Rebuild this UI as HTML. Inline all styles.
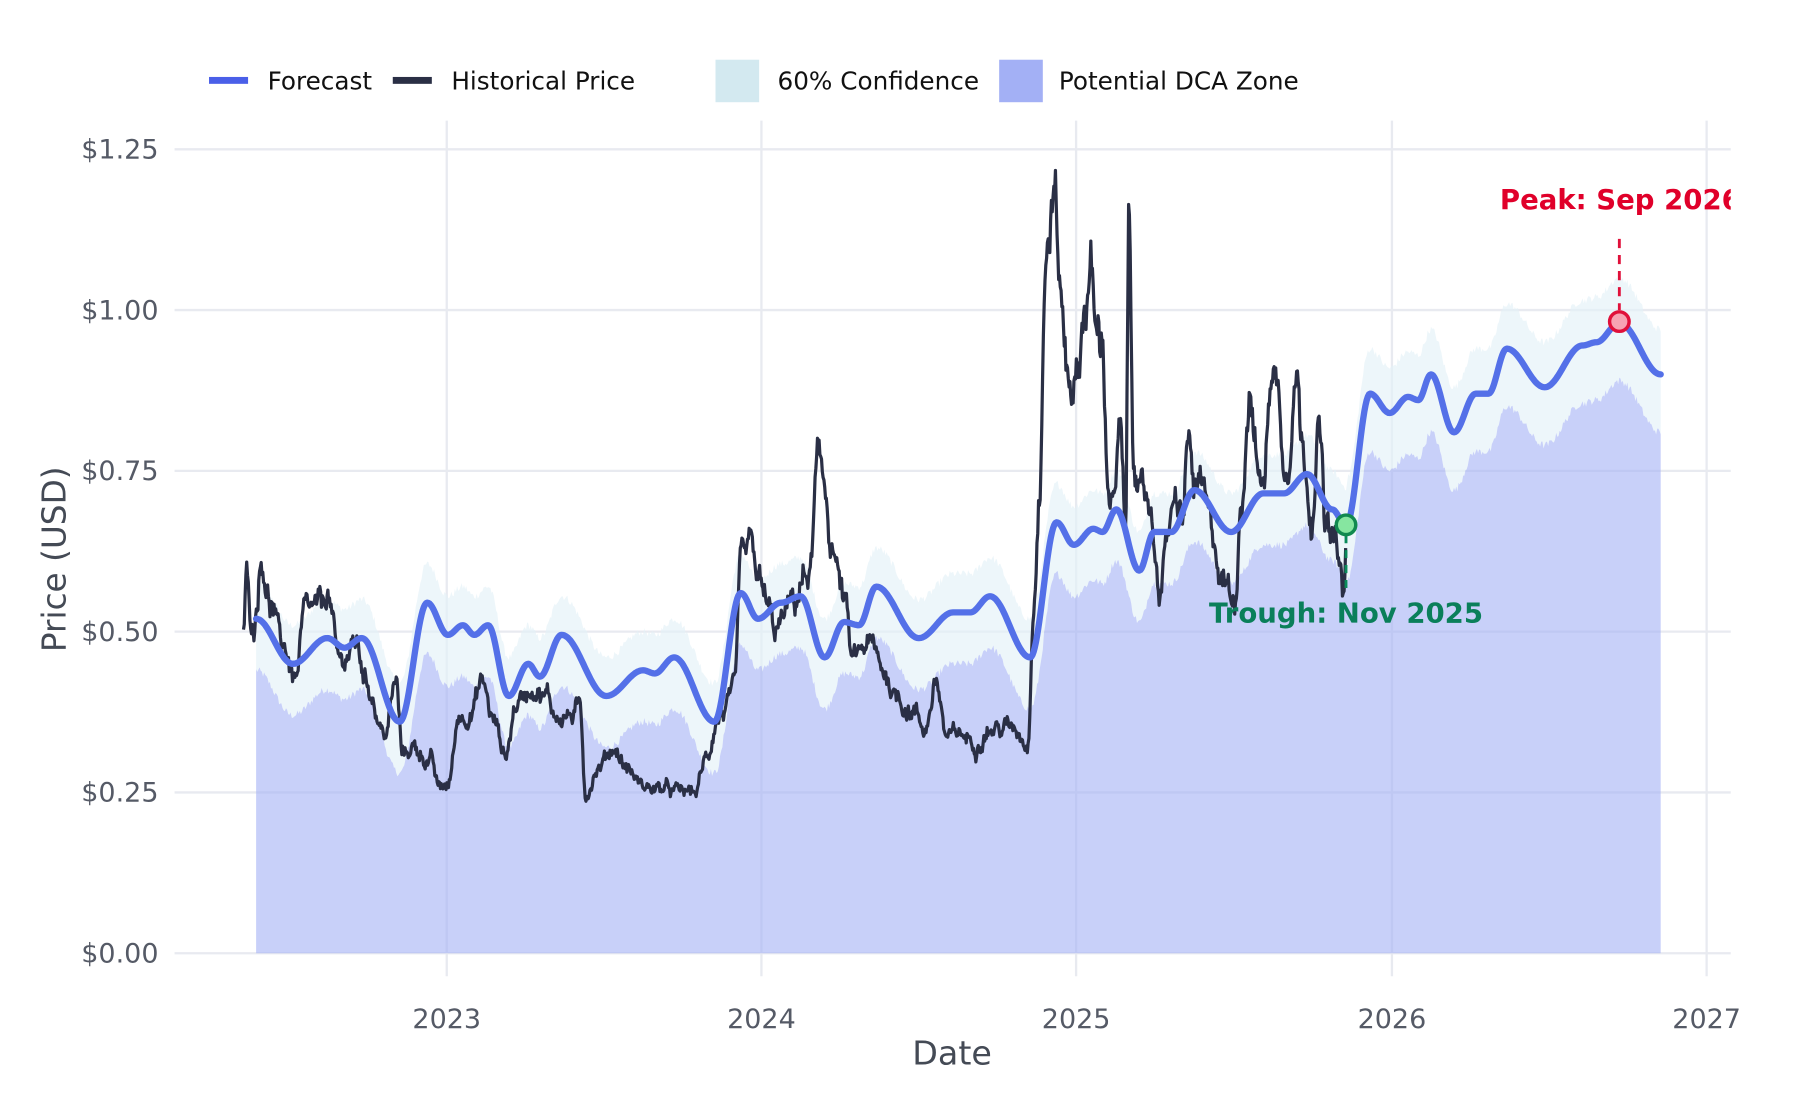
<!DOCTYPE html>
<html><head><meta charset="utf-8">
<style>html,body{margin:0;padding:0;background:#fff}svg{display:block}text{font-family:"DejaVu Sans","Liberation Sans",sans-serif}</style>
</head><body>
<svg id="c" width="1800" height="1100" viewBox="0 0 1567.3 957.8" xmlns="http://www.w3.org/2000/svg">
<defs><clipPath id="pc"><rect x="152" y="100" width="1355" height="760"/></clipPath></defs>
<rect width="1568" height="958" fill="#fff"/>
<g stroke="#e8eaf0" stroke-width="2">
<line x1="152" x2="1507" y1="130" y2="130"/><line x1="152" x2="1507" y1="270" y2="270"/>
<line x1="152" x2="1507" y1="410" y2="410"/><line x1="152" x2="1507" y1="550" y2="550"/>
<line x1="152" x2="1507" y1="690" y2="690"/><line x1="152" x2="1507" y1="830" y2="830"/>
<line x1="389" x2="389" y1="105" y2="850"/><line x1="663" x2="663" y1="105" y2="850"/>
<line x1="937" x2="937" y1="105" y2="850"/><line x1="1212" x2="1212" y1="105" y2="850"/>
<line x1="1486" x2="1486" y1="105" y2="850"/>
</g>
<path id="conf" fill="#e3f1f7" fill-opacity="0.65"/>
<path id="dca" fill="#a3b0f5" fill-opacity="0.6"/>
<path id="hist" fill="none" stroke="#2a2f45" stroke-width="2.8" stroke-linejoin="round"/>
<path id="fc" fill="none" stroke="#5470e8" stroke-width="5.5" stroke-linejoin="round" stroke-linecap="round"/>
<line x1="1172" x2="1172" y1="466" y2="515" stroke="#0a8a5a" stroke-width="2.5" stroke-dasharray="7,6"/>
<circle cx="1172" cy="457" r="8.5" fill="#86e6a0" stroke="#11894f" stroke-width="3"/>
<line x1="1410" x2="1410" y1="208" y2="270" stroke="#e0103a" stroke-width="2.5" stroke-dasharray="8,6"/>
<circle cx="1410" cy="280" r="8.5" fill="#f7a3b3" stroke="#e0103a" stroke-width="3"/>
<text x="1172" y="542" text-anchor="middle" font-size="24" font-weight="bold" fill="#0a7f5a">Trough: Nov 2025</text>
<g clip-path="url(#pc)"><text x="1306" y="182" font-size="24" font-weight="bold" fill="#e0002a">Peak: Sep 2026</text></g>
<g font-size="23.5" fill="#555a66" text-anchor="end">
<text x="138" y="138">$1.25</text><text x="138" y="278">$1.00</text><text x="138" y="418">$0.75</text>
<text x="138" y="558">$0.50</text><text x="138" y="698">$0.25</text><text x="138" y="838">$0.00</text>
</g>
<g font-size="23.5" fill="#555a66" text-anchor="middle">
<text x="389" y="895">2023</text><text x="663" y="895">2024</text><text x="937" y="895">2025</text>
<text x="1212" y="895">2026</text><text x="1486" y="895">2027</text>
</g>
<text x="829" y="927" text-anchor="middle" font-size="29" fill="#444a55">Date</text>
<text transform="translate(57,487) rotate(-90)" text-anchor="middle" font-size="28.5" fill="#444a55">Price (USD)</text>
<rect x="182" y="67" width="34" height="6" fill="#4a5fe8"/>
<text x="233" y="78" font-size="21.5" fill="#111">Forecast</text>
<rect x="342" y="67" width="34" height="6" fill="#2a2f45"/>
<text x="393" y="78" font-size="21.5" fill="#111">Historical Price</text>
<rect x="623" y="52" width="38" height="37" fill="#d3e9f0"/>
<text x="677" y="78" font-size="21.5" fill="#111">60% Confidence</text>
<rect x="870" y="52" width="38" height="37" fill="#a3b0f5"/>
<text x="922" y="78" font-size="21.5" fill="#111">Potential DCA Zone</text>
</svg>
<script>
(function(){
var Y=function(p){return 830-560*p;};
var seed=12345;function rnd(){seed=(seed*1103515245+12345)%2147483648;return seed/2147483648;}
function interp(pts,x){for(var i=0;i<pts.length-1;i++){if(x>=pts[i][0]&&x<=pts[i+1][0]){var a=pts[i],b=pts[i+1];var t=(x-a[0])/(b[0]-a[0]);t=(1-Math.cos(Math.PI*t))/2;return a[1]+(b[1]-a[1])*t;}}return pts[pts.length-1][1];}
var F=[[223,0.52],[255,0.45],[285,0.49],[300,0.475],[315,0.49],[348,0.36],[372,0.545],[390,0.495],[403,0.51],[413,0.495],[425,0.51],[443,0.40],[460,0.45],[470,0.43],[489,0.495],[528,0.40],[560,0.44],[570,0.435],[587,0.46],[622,0.36],[645,0.56],[660,0.52],[680,0.545],[697,0.555],[718,0.46],[735,0.515],[748,0.51],[763,0.57],[800,0.49],[830,0.53],[845,0.53],[862,0.555],[897,0.46],[920,0.67],[935,0.635],[952,0.66],[960,0.655],[972,0.69],[992,0.595],[1005,0.655],[1020,0.655],[1040,0.72],[1072,0.655],[1100,0.715],[1118,0.715],[1138,0.745],[1160,0.69],[1172,0.665],[1193,0.87],[1210,0.84],[1226,0.865],[1235,0.86],[1246,0.9],[1266,0.81],[1285,0.87],[1296,0.87],[1312,0.94],[1345,0.88],[1378,0.945],[1390,0.95],[1410,0.98],[1446,0.90]];
var fc="",up=[],lo=[];
for(var x=223;x<=1446;x+=1){var p=interp(F,x);fc+=(x==223?"M":"L")+x+","+Y(p).toFixed(1);
var n=(rnd()-0.5)*0.012;var w=x>1172?0.07:0.06;up.push([x,Y(p+w+n)]);lo.push([x,Y(p-w-0.02+n)]);}
document.getElementById("fc").setAttribute("d",fc);
var c="M"+up.map(function(q){return q[0]+","+q[1].toFixed(1)}).join("L");
for(var i=lo.length-1;i>=0;i--)c+="L"+lo[i][0]+","+lo[i][1].toFixed(1);
document.getElementById("conf").setAttribute("d",c+"Z");
var d="M223,830L"+lo.map(function(q){return q[0]+","+q[1].toFixed(1)}).join("L")+"L1446,830Z";
document.getElementById("dca").setAttribute("d",d);
var H=[[212,0.50],[215,0.59],[220,0.51],[228,0.62],[235,0.55],[245,0.48],[258,0.43],[265,0.52],[280,0.53],[285,0.56],[295,0.45],[310,0.48],[320,0.42],[335,0.34],[345,0.42],[350,0.31],[360,0.32],[375,0.30],[382,0.255],[390,0.26],[400,0.37],[410,0.38],[420,0.42],[430,0.36],[440,0.31],[450,0.39],[465,0.42],[475,0.40],[485,0.37],[500,0.37],[505,0.38],[510,0.25],[520,0.29],[535,0.32],[545,0.29],[560,0.26],[575,0.255],[590,0.25],[605,0.25],[615,0.30],[625,0.37],[640,0.40],[645,0.60],[655,0.62],[660,0.58],[665,0.55],[675,0.50],[690,0.54],[700,0.58],[705,0.59],[712,0.75],[718,0.72],[725,0.63],[735,0.55],[742,0.45],[755,0.48],[770,0.44],[780,0.40],[795,0.38],[805,0.35],[815,0.42],[825,0.33],[835,0.34],[848,0.33],[860,0.35],[870,0.35],[885,0.35],[895,0.33],[900,0.56],[905,0.72],[910,1.05],[913,1.12],[918,1.20],[922,1.05],[930,0.90],[938,0.90],[945,1.02],[950,1.06],[955,0.95],[960,0.95],[965,0.73],[970,0.70],[975,0.80],[980,0.65],[983,1.13],[987,0.80],[993,0.70],[1000,0.70],[1010,0.58],[1020,0.68],[1030,0.68],[1035,0.80],[1040,0.72],[1045,0.72],[1055,0.65],[1065,0.58],[1075,0.55],[1080,0.70],[1088,0.88],[1095,0.76],[1100,0.72],[1107,0.92],[1112,0.88],[1120,0.76],[1128,0.92],[1135,0.78],[1142,0.70],[1148,0.82],[1155,0.65],[1165,0.62],[1170,0.55],[1172,0.62]];
var h="",walk=0;
for(var x=212;x<=1172;x+=0.7){var p=interp(H,x);walk=walk*0.85+(rnd()-0.5)*0.05;p+=(walk+(rnd()-0.5)*0.03)*p;h+=(x==212?"M":"L")+x.toFixed(1)+","+Y(p).toFixed(1);}
document.getElementById("hist").setAttribute("d",h);
})();
</script>
</body></html>
